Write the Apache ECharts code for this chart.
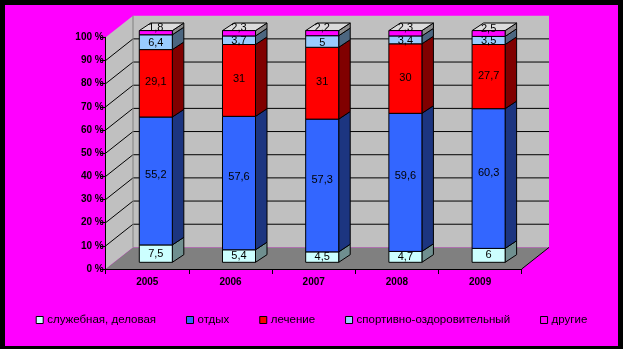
<!DOCTYPE html>
<html>
<head>
<meta charset="utf-8">
<script src="https://cdn.jsdelivr.net/npm/echarts@6/dist/echarts.min.js"></script>
<style>
html,body{margin:0;padding:0;background:#000;}
#chart{width:623px;height:349px;}
</style>
</head>
<body>
<div id="chart"></div>
<script>
const categories = ['2005', '2006', '2007', '2008', '2009'];
const seriesNames = ['служебная, деловая', 'отдых', 'лечение', 'спортивно-оздоровительный', 'другие'];
const business = [7.5, 5.4, 4.5, 4.7, 6];
const rest = [55.2, 57.6, 57.3, 59.6, 60.3];
const treatment = [29.1, 31, 31, 30, 27.7];
const sport = [6.4, 3.7, 5, 3.4, 3.5];
const other = [1.8, 2.3, 2.2, 2.3, 2.5];
const yTicks = [0, 10, 20, 30, 40, 50, 60, 70, 80, 90, 100];

const allValues = [business, rest, treatment, sport, other];
const frontColors = ['#ccffff', '#3366ff', '#ff0000', '#99ccff', '#ff00ff'];
const sideColors = ['#6f8f8f', '#1c3580', '#800000', '#4c6680', '#8c8c8c'];
const labelShift = [0, -6, -1, 1, -5];

// wall depth (pixels)
const DX = 27.3, DY = -21.6;
// bar placement inside the depth
const SX = 8.5, SY = -6.7, BDX = 11.5, BDY = -7.6;

const chart = echarts.init(document.getElementById('chart'), null, {renderer: 'canvas'});

function wallsRender(params, api) {
  const cs = params.coordSys;
  const gx = cs.x, gy = cs.y, gw = cs.width, gh = cs.height, gb = gy + gh;
  const children = [];
  children.push({type: 'polygon', shape: {points: [[gx, gy], [gx + DX, gy + DY], [gx + DX, gb + DY], [gx, gb]]}, style: {fill: '#c0c0c0'}});
  children.push({type: 'rect', shape: {x: gx + DX, y: gy + DY, width: gw, height: gh}, style: {fill: '#c0c0c0'}});
  children.push({type: 'polygon', shape: {points: [[gx, gb], [gx + gw, gb], [gx + gw + DX, gb + DY], [gx + DX, gb + DY]]}, style: {fill: '#808080'}});
  yTicks.forEach(function (v) {
    if (v === 0 || v === 100) return;
    const p = api.coord([0, v])[1];
    children.push({type: 'polyline', shape: {points: [[gx, p], [gx + DX, p + DY], [gx + gw + DX, p + DY]]}, style: {stroke: '#000', lineWidth: 1, fill: null}});
  });
  children.push({type: 'line', shape: {x1: gx + DX, y1: gy + DY, x2: gx + DX, y2: gb + DY}, style: {stroke: '#808080', lineWidth: 1}});
  children.push({type: 'line', shape: {x1: gx + gw, y1: gb, x2: gx + gw + DX, y2: gb + DY}, style: {stroke: '#000', lineWidth: 1}});
  return {type: 'group', children: children};
}

function makeBarRender(si) {
  return function (params, api) {
    const ci = api.value(0);
    const base = api.value(1), top = api.value(2);
    const pB = api.coord([ci, base]);
    const pT = api.coord([ci, top]);
    const band = api.size([1, 0])[0];
    const bw = band * 0.397;
    const x0 = pB[0] - bw / 2 + SX, x1 = x0 + bw;
    const yb = pB[1] + SY, yt = pT[1] + SY;
    const children = [];
    children.push({type: 'polygon', shape: {points: [[x1, yt], [x1 + BDX, yt + BDY], [x1 + BDX, yb + BDY], [x1, yb]]},
      style: {fill: sideColors[si], stroke: '#000', lineWidth: 1}});
    if (si === allValues.length - 1) {
      children.push({type: 'polygon', shape: {points: [[x0, yt], [x1, yt], [x1 + BDX, yt + BDY], [x0 + BDX, yt + BDY]]},
        style: {fill: '#dcdcdc', stroke: '#000', lineWidth: 1}});
    }
    children.push({type: 'rect', shape: {x: x0, y: yt, width: bw, height: yb - yt},
      style: {fill: frontColors[si], stroke: '#000', lineWidth: 1}});
    const val = allValues[si][ci];
    children.push({type: 'text', z2: 10, style: {
      x: (x0 + x1) / 2, y: (yt + yb) / 2 + labelShift[si],
      text: String(val).replace('.', ','), fill: '#000',
      font: '11px Arial, "Liberation Sans", sans-serif', align: 'center', verticalAlign: 'middle'}});
    return {type: 'group', children: children};
  };
}

const series = [{
  type: 'custom', name: '__walls', silent: true, clip: false, z: 1,
  renderItem: wallsRender, data: [[0, 0]], encode: {x: 0, y: 1}
}];
allValues.forEach(function (vals, si) {
  const data = vals.map(function (v, ci) {
    let base = 0;
    for (let k = 0; k < si; k++) base += allValues[k][ci];
    return [ci, base, base + v];
  });
  series.push({
    type: 'custom', name: seriesNames[si], clip: false, z: 3,
    itemStyle: {color: frontColors[si], borderColor: '#000', borderWidth: 1},
    renderItem: makeBarRender(si), data: data, encode: {x: 0, y: [1, 2]}
  });
});

chart.setOption({
  backgroundColor: '#000',
  animation: false,
  graphic: [{type: 'rect', z: -10, silent: true, shape: {x: 5, y: 5, width: 613, height: 341}, style: {fill: '#ff00ff'}}],
  grid: {left: 105.7, top: 37.3, width: 416, height: 231.7, containLabel: false},
  xAxis: {
    type: 'category', data: categories, boundaryGap: true,
    axisLine: {show: true, lineStyle: {color: '#000', width: 1}},
    axisTick: {show: true, interval: 0, length: 5, lineStyle: {color: '#000'}},
    axisLabel: {color: '#000', fontWeight: 'bold', fontSize: 10, fontFamily: 'Arial, "Liberation Sans", sans-serif', margin: 8},
    splitLine: {show: false}, z: 5
  },
  yAxis: {
    type: 'value', min: 0, max: 100, interval: 10,
    axisLine: {show: true, lineStyle: {color: '#000', width: 1}},
    axisTick: {show: true, length: 5, lineStyle: {color: '#000'}},
    axisLabel: {color: '#000', fontWeight: 'bold', fontSize: 10, fontFamily: 'Arial, "Liberation Sans", sans-serif', margin: 2,
      formatter: function (v) { return v + ' %'; }},
    splitLine: {show: false}, z: 5
  },
  legend: {
    data: seriesNames.map(function (n, i) { return {name: n, icon: 'rect', itemStyle: {color: frontColors[i], borderColor: '#000', borderWidth: 1}}; }),
    top: 309, left: 'center', itemWidth: 7, itemHeight: 7, itemGap: 30,
    textStyle: {color: '#000', fontSize: 11.5, fontFamily: 'Arial, "Liberation Sans", sans-serif', padding: [0, 0, 0, -1]},
    selectedMode: false
  },
  series: series
});
</script>
</body>
</html>
